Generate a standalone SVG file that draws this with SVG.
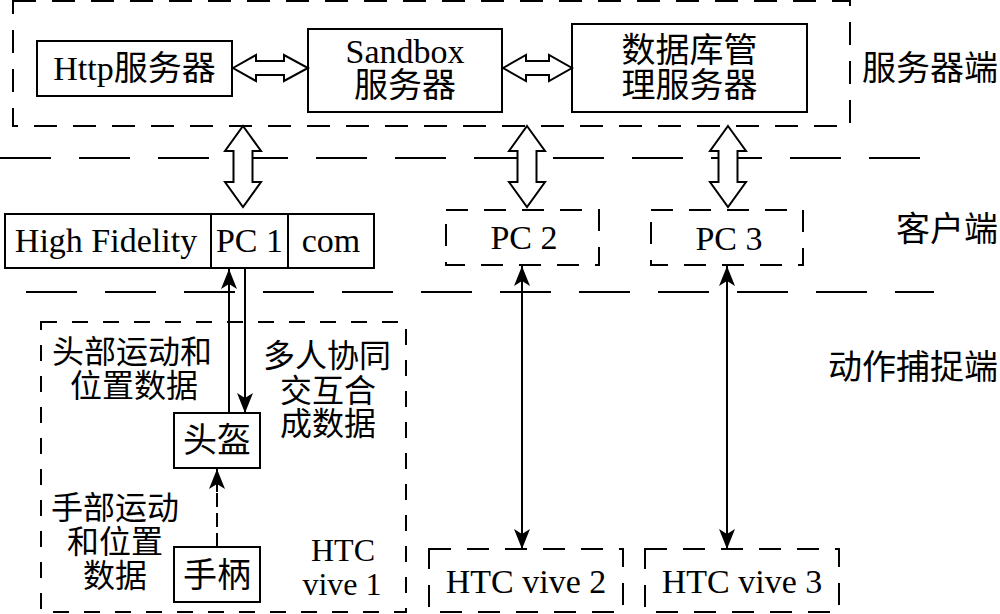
<svg xmlns="http://www.w3.org/2000/svg" width="1000" height="614" viewBox="0 0 1000 614">
<defs>
<style>
.box{fill:#fff;stroke:#000;stroke-width:2}
.dbox{fill:none;stroke:#000;stroke-width:2;stroke-dasharray:23 16}
.dbox2{fill:none;stroke:#000;stroke-width:2;stroke-dasharray:22 16}
.sep{fill:none;stroke:#000;stroke-width:2;stroke-dasharray:51 28}
.blk{fill:#fff;stroke:#000;stroke-width:2;stroke-linejoin:miter}
.ln{fill:none;stroke:#000;stroke-width:2}
.t{font-family:"Liberation Serif","Noto Sans CJK SC",serif;font-size:34px;fill:#000;text-anchor:middle}
.c{font-family:"Liberation Serif","Noto Sans CJK SC",serif;font-size:32px;fill:#000;text-anchor:middle}
.s{font-family:"Liberation Serif","Noto Sans CJK SC",serif;font-size:34px;fill:#000;text-anchor:end}
</style>
<marker id="ah" viewBox="0 0 20 16" refX="20" refY="8" markerWidth="20" markerHeight="16" markerUnits="userSpaceOnUse" orient="auto-start-reverse">
<path d="M0,0 L20,8 L0,16 L5,8 z" fill="#000"/>
</marker>
</defs>
<rect width="1000" height="614" fill="#fff"/>

<g id="separators">
<line class="sep" x1="0" y1="158" x2="920" y2="158"/>
<line class="sep" x1="26" y1="292" x2="934" y2="292"/>
</g>

<g id="server-group">
<rect class="dbox" x="13" y="1" width="837" height="125"/>
<text class="s" x="998" y="80">服务器端</text>
</g>
<g id="http">
<rect class="box" x="37" y="41" width="195" height="55"/>
<text class="t" x="134.5" y="80">Http服务器</text>
</g>
<g id="sandbox">
<rect class="box" x="308" y="29" width="194" height="83"/>
<text class="t" x="405" y="63">Sandbox</text>
<text class="t" x="405" y="97">服务器</text>
</g>
<g id="db">
<rect class="box" x="572" y="24" width="235" height="88"/>
<text class="t" x="689.5" y="62">数据库管</text>
<text class="t" x="689.5" y="97">理服务器</text>
</g>

<g id="client-label">
<text class="s" x="998" y="241">客户端</text>
</g>
<g id="pc1">
<rect class="box" x="5" y="214" width="369" height="54"/>
<line class="ln" x1="211" y1="214" x2="211" y2="268"/>
<line class="ln" x1="288" y1="214" x2="288" y2="268"/>
<text class="t" x="106" y="252">High Fidelity</text>
<text class="t" x="249.5" y="252">PC 1</text>
<text class="t" x="331" y="252">com</text>
</g>
<g id="pc2">
<rect class="dbox2" x="446" y="210" width="153" height="55"/>
<text class="t" x="524" y="249">PC 2</text>
</g>
<g id="pc3">
<rect class="dbox2" x="651" y="210" width="152" height="55"/>
<text class="t" x="729" y="250">PC 3</text>
</g>

<g id="mocap-label">
<text class="s" x="998" y="379">动作捕捉端</text>
</g>
<g id="vive1">
<rect fill="none" stroke="#000" stroke-width="2" stroke-dasharray="16 15" x="41" y="322" width="365" height="290"/>
<text class="c" x="132" y="363">头部运动和</text>
<text class="c" x="134" y="397">位置数据</text>
<text class="c" x="327" y="367">多人协同</text>
<text class="c" x="328" y="402">交互合</text>
<text class="c" x="328" y="435">成数据</text>
<text class="c" x="115" y="519">手部运动</text>
<text class="c" x="115" y="553">和位置</text>
<text class="c" x="115" y="587">数据</text>
<text class="c" x="343" y="561">HTC</text>
<text class="c" x="342" y="595">vive 1</text>
</g>
<g id="helmet">
<rect class="box" x="174" y="413" width="86" height="55"/>
<text class="t" x="217" y="452">头盔</text>
</g>
<g id="controller">
<rect class="box" x="174" y="547" width="86" height="55"/>
<text class="t" x="217" y="587">手柄</text>
</g>
<g id="vive2">
<rect class="dbox2" x="429" y="549" width="194" height="63"/>
<text class="t" x="526" y="593">HTC vive 2</text>
</g>
<g id="vive3">
<rect class="dbox2" x="645" y="549" width="194" height="63"/>
<text class="t" x="742" y="593">HTC vive 3</text>
</g>

<g id="connectors">
<polygon class="blk" points="233,68 256,55 256,61 284,61 284,55 308,68 284,81 284,75 256,75 256,81"/>
<polygon class="blk" points="503,68 526,55 526,61 549,61 549,55 572,68 549,81 549,75 526,75 526,81"/>
<polygon class="blk" points="243,126 261,151 252.5,151 252.5,182 261,182 243,207 225,182 233.5,182 233.5,151 225,151"/>
<polygon class="blk" points="527,126 545,151 536.5,151 536.5,182 545,182 527,207 509,182 517.5,182 517.5,151 509,151"/>
<polygon class="blk" points="728,126 746,151 737.5,151 737.5,182 746,182 728,207 710,182 718.5,182 718.5,151 710,151"/>
<line class="ln" x1="229" y1="413" x2="229" y2="269" marker-end="url(#ah)"/>
<line class="ln" x1="245" y1="269" x2="245" y2="413" marker-end="url(#ah)"/>
<line class="ln" x1="522" y1="266" x2="522" y2="549" marker-start="url(#ah)" marker-end="url(#ah)"/>
<line class="ln" x1="727" y1="266" x2="727" y2="549" marker-start="url(#ah)" marker-end="url(#ah)"/>
<line class="ln" x1="217" y1="547" x2="217" y2="490" stroke-dasharray="14 6"/>
<line class="ln" x1="217" y1="492" x2="217" y2="469" marker-end="url(#ah)"/>
</g>
</svg>
